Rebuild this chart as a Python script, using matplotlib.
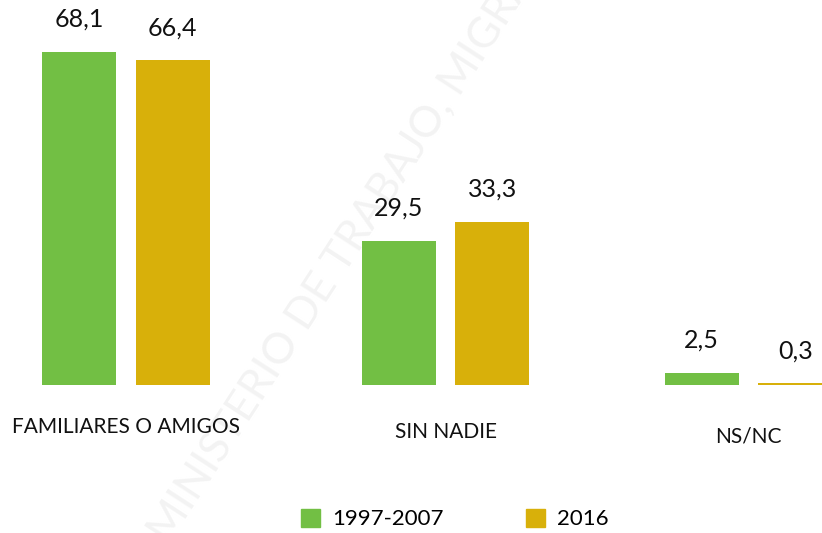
import numpy as np
import matplotlib
matplotlib.use("Agg")
import matplotlib.pyplot as plt
from matplotlib.patches import Patch

categories = ["FAMILIARES O AMIGOS", "SIN NADIE", "NS/NC"]
series_names = ["1997-2007", "2016"]
values_1997_2007 = [68.1, 29.5, 2.5]
values_2016 = [66.4, 33.3, 0.3]
colors = ["#72bf44", "#d8b00a"]

plt.rcParams["font.family"] = ["Lato", "DejaVu Sans"]

fig = plt.figure(figsize=(8.22, 5.33), dpi=100)
ax = fig.add_axes([0, 0, 1, 1])

# group centres (the original spacing is slightly uneven)
x = np.arange(len(categories)) + np.array([0, 0.036, 0.018])
w = 0.24
off = 0.152

ax.bar(x - off, values_1997_2007, w, color=colors[0], zorder=2)
ax.bar(x + off, values_2016, w, color=colors[1], zorder=2)

for xi, v in zip(x, values_1997_2007):
    ax.text(xi - off, v + 4.3, f"{v:.1f}".replace(".", ","), ha="center",
            va="bottom", fontsize=18, color="#111111", zorder=3)
for xi, v in zip(x, values_2016):
    ax.text(xi + off, v + 4.3, f"{v:.1f}".replace(".", ","), ha="center",
            va="bottom", fontsize=18, color="#111111", zorder=3)

label_y = [-8.6, -9.6, -10.6]
for xi, cat, ly in zip(x, categories, label_y):
    ax.text(xi, ly, cat, ha="center", va="center", fontsize=15, color="#111111")

# watermark, drawn underneath the axes
fig.text(0.212, -0.03, "MINISTERIO DE TRABAJO, MIGRACIONES",
         rotation=57, rotation_mode="anchor", ha="left", va="bottom",
         fontsize=31, color="#f3f3f3", zorder=-1)

ax.set_xlim(-0.408, 2.256)
ax.set_ylim(-30.27, 78.7)
ax.axis("off")

handles = [Patch(color=c, label=n) for c, n in zip(colors, series_names)]
fig.legend(handles=handles, loc="center", bbox_to_anchor=(0.553, 0.026), ncol=2,
           frameon=False, fontsize=16, handlelength=0.85, handleheight=0.85,
           handletextpad=0.55, columnspacing=3.7)

fig.savefig("out.png", dpi=100)
